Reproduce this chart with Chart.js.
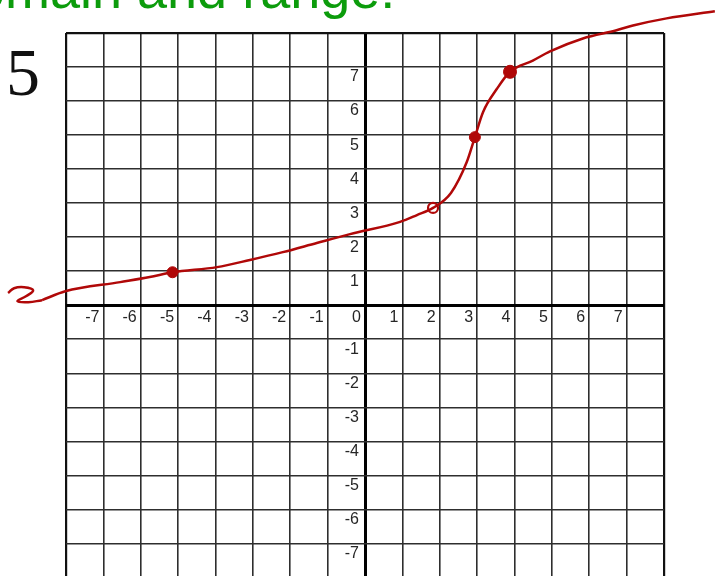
<!DOCTYPE html>
<html>
<head>
<meta charset="utf-8">
<script src="https://cdn.jsdelivr.net/npm/chart.js@4"></script>
<style>
  html, body { margin: 0; padding: 0; background: #fff; }
  #wrap { width: 715px; height: 576px; overflow: hidden; }
</style>
</head>
<body>
<!-- el lienzo es algo mas alto: la ultima fila de la cuadricula queda cortada como en la foto -->
<div id="wrap"><canvas id="graph" width="715" height="585"></canvas></div>
<script>
// Grafico dibujado a mano sobre cuadricula

const xTicks = [-7, -6, -5, -4, -3, -2, -1, 0, 1, 2, 3, 4, 5, 6, 7];
const yTicks = [-7, -6, -5, -4, -3, -2, -1, 1, 2, 3, 4, 5, 6, 7];

// limites de la cuadricula
const xRange = [-8, 8];
const yRange = [-8, 8];

// trazo principal
const curveX = [-8.64, -8.02, -6.55, -5.76, -5.15, -3.96, -3.08, -2.2, -1.29, -0.4, 0.94, 1.39, 1.82,
                2.3, 2.72, 2.94, 3.16, 3.53, 3.88, 4.49, 4.95, 5.83, 6.73, 7.17, 8.07, 9.36];
const curveY = [0.15, 0.41, 0.68, 0.83, 0.97, 1.12, 1.33, 1.56, 1.83, 2.09, 2.45, 2.65, 2.86,
                3.3, 4.2, 4.94, 5.68, 6.36, 6.86, 7.19, 7.46, 7.84, 8.08, 8.22, 8.43, 8.64];

// garabato de la flecha izquierda
const tailX = [-9.55, -9.39, -9.12, -8.88, -9.06, -9.3, -9.01, -8.64];
const tailY = [0.36, 0.5, 0.53, 0.44, 0.27, 0.12, 0.09, 0.15];

// puntos marcados
const dotX = [-5.15, 1.82, 2.94, 3.88];
const dotY = [0.97, 2.86, 4.94, 6.86];

const RED = '#b00808';
const toXY = (xs, ys) => xs.map((v, i) => ({ x: v, y: ys[i] }));

function gridColor(c) {
    const v = c.tick.value;
    if (v === 0) return '#000';
    if (Math.abs(v) === 8) return '#111';
    return '#2e2e2e';
}

function gridWidth(c) {
    const v = c.tick.value;
    if (v === 0) return 3;
    if (Math.abs(v) === 8) return 2.2;
    return 1.6;
}

const paperText = {
    id: 'paperText',
    beforeDatasetsDraw(chart) {
        const { ctx, scales: { x, y } } = chart;
        ctx.save();
        ctx.fillStyle = '#262626';
        ctx.font = '16px "Liberation Sans", Arial, sans-serif';
        ctx.textAlign = 'right';
        ctx.textBaseline = 'middle';
        const x0 = x.getPixelForValue(0);
        const y0 = y.getPixelForValue(0);
        xTicks.forEach(v => ctx.fillText(String(v), x.getPixelForValue(v) - 4, y0 + 12));
        yTicks.forEach(v => ctx.fillText(String(v), x0 - 6, y.getPixelForValue(v) + 10));
        ctx.restore();
    },
    afterDraw(chart) {
        const ctx = chart.ctx;
        ctx.save();
        ctx.textAlign = 'left';
        ctx.textBaseline = 'alphabetic';
        ctx.fillStyle = '#0c9c0c';
        ctx.font = '54px "Liberation Sans", Arial, sans-serif';
        const lead = ctx.measureText('Do').width;
        ctx.fillText('Domain and range:', 5 - lead, 8);
        ctx.fillStyle = '#111';
        ctx.font = '68px "Liberation Serif", "Times New Roman", serif';
        ctx.fillText('5', 6, 95);
        ctx.restore();
    }
};

// fija los limites sin recortar los puntos fuera de la cuadricula
const fixRange = r => scale => { scale.min = r[0]; scale.max = r[1]; };

new Chart(document.getElementById('graph'), {
    type: 'scatter',
    data: {
        datasets: [{
            data: toXY(curveX, curveY),
            showLine: true,
            borderColor: RED,
            borderWidth: 2.5,
            pointRadius: 0,
            cubicInterpolationMode: 'monotone',
            clip: false
        }, {
            data: toXY(tailX, tailY),
            showLine: true,
            borderColor: RED,
            borderWidth: 2.5,
            pointRadius: 0,
            tension: 0.45,
            clip: false
        }, {
            data: toXY(dotX, dotY),
            showLine: false,
            pointRadius: [5.5, 5, 5.5, 6.5],
            pointBackgroundColor: [RED, 'rgba(255,255,255,0)', RED, RED],
            pointBorderColor: RED,
            pointBorderWidth: [1, 2.2, 1, 1],
            clip: false
        }]
    },
    options: {
        responsive: false,
        animation: false,
        events: [],
        layout: { padding: { left: 66, right: 51, top: 33, bottom: 0 } },
        plugins: {
            legend: { display: false },
            tooltip: { enabled: false }
        },
        scales: {
            x: {
                type: 'linear',
                afterDataLimits: fixRange(xRange),
                ticks: { display: false, stepSize: 1 },
                grid: { color: gridColor, lineWidth: gridWidth, drawTicks: false },
                border: { display: false }
            },
            y: {
                type: 'linear',
                afterDataLimits: fixRange(yRange),
                ticks: { display: false, stepSize: 1 },
                grid: { color: gridColor, lineWidth: gridWidth, drawTicks: false },
                border: { display: false }
            }
        }
    },
    plugins: [paperText]
});
</script>
</body>
</html>
